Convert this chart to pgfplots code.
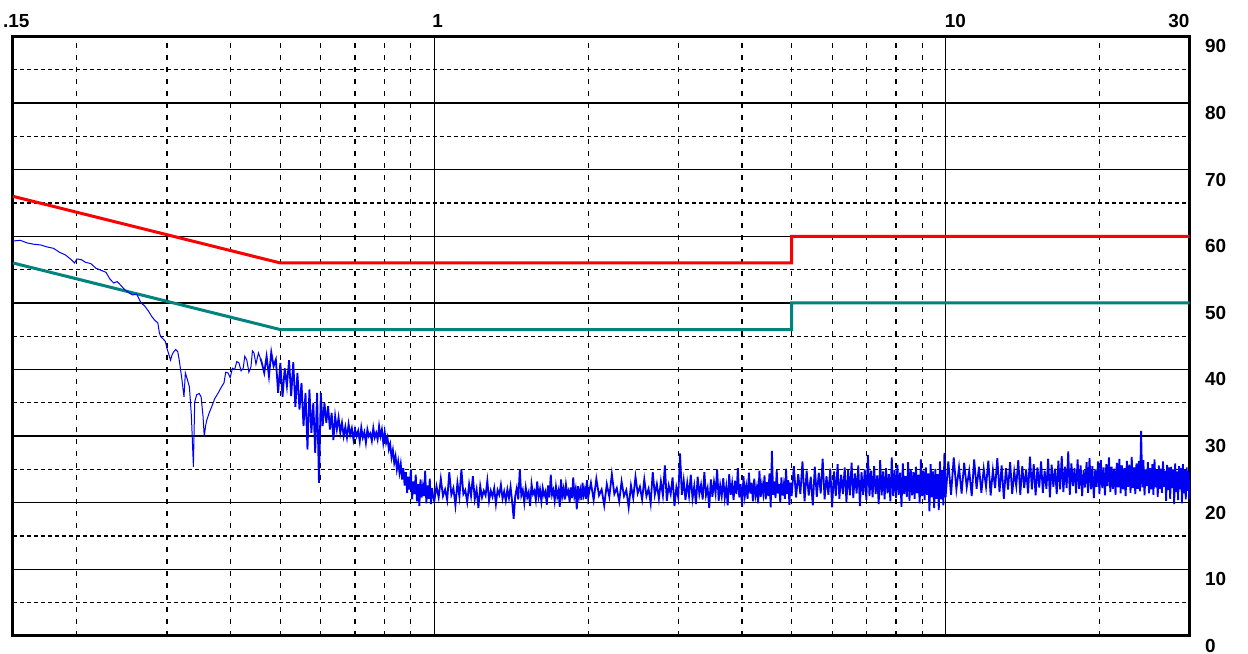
\documentclass[border=0pt]{standalone}
\usepackage{fontspec}
\setmainfont{Liberation Sans}
\usepackage{pgfplots}
\pgfplotsset{compat=1.18}
\definecolor{limred}{RGB}{250,0,0}
\definecolor{limteal}{RGB}{0,130,125}
\definecolor{trace}{RGB}{0,0,245}
\newcommand{\lbl}{\fontsize{19}{19}\selectfont\bfseries}
\begin{document}
\begin{tikzpicture}
\begin{axis}[
  scale only axis, width=1176.5bp, height=599.5bp,
  xmode=log, xmin=0.15, xmax=30, ymin=0, ymax=90,
  clip=false,
  axis line style={line width=3bp},
  xtick={1,10}, xticklabels={},
  minor xtick={0.2,0.3,0.4,0.5,0.6,0.7,0.8,0.9,2,3,4,5,6,7,8,9,20},
  ytick={0,10,20,30,40,50,60,70,80,90},
  yticklabels={0,10,20,30,40,50,60,70,80,90},
  minor ytick={5,15,25,35,45,55,65,75,85},
  major tick length=0pt, minor tick length=0pt,
  grid=both,
  major grid style={black, line width=1.4bp},
  minor x grid style={black, line width=1.2bp, dash pattern=on 5bp off 7bp},
  minor y grid style={black, line width=1.2bp, dash pattern=on 4bp off 3bp},
  yticklabel pos=right,
  yticklabel style={anchor=north west, inner sep=0pt, xshift=15.5bp, yshift=-3bp, font=\lbl},
]
% limit lines
\addplot[limred, line width=3bp] coordinates {(0.15,66)(0.5,56)(5,56)(5,60)(30,60)};
\addplot[limteal, line width=3bp] coordinates {(0.15,56)(0.5,46)(5,46)(5,50)(30,50)};
% measured trace, smooth low-frequency part
\addplot[trace, line width=1bp] coordinates {
(0.150,59.3)(0.155,59.4)(0.160,59.0)(0.165,58.8)(0.170,58.7)(0.175,58.4)(0.180,58.2)(0.185,57.6)(0.190,57.2)(0.195,56.5)(0.198,56.0)(0.200,56.6)(0.204,56.5)(0.208,56.1)(0.213,55.9)(0.218,55.2)(0.223,54.9)(0.228,54.6)(0.232,53.6)(0.236,53.0)(0.240,53.2)(0.244,52.6)(0.248,52.0)(0.252,51.6)(0.257,51.2)(0.262,51.3)(0.267,50.0)(0.271,49.6)(0.276,48.8)(0.280,48.0)(0.284,47.4)(0.288,47.0)(0.290,45.5)(0.292,44.9)(0.295,44.6)(0.298,44.2)(0.300,43.2)(0.302,42.5)(0.305,41.4)(0.307,42.2)(0.309,42.6)(0.312,43.0)(0.315,42.7)(0.317,41.5)(0.319,40.0)(0.321,38.5)(0.324,35.9)(0.326,39.5)(0.329,38.5)(0.332,37.4)(0.335,33.0)(0.338,25.4)(0.340,35.1)(0.343,36.2)(0.347,36.4)(0.350,35.9)(0.353,33.0)(0.355,29.9)(0.357,31.5)(0.359,32.4)(0.363,33.5)(0.367,34.4)(0.372,35.6)(0.378,36.5)(0.383,37.3)(0.388,38.0)(0.391,39.6)(0.395,39.5)(0.399,38.8)(0.403,40.2)(0.407,40.0)(0.411,41.2)(0.415,41.0)(0.419,39.8)(0.423,40.2)(0.426,42.0)(0.430,41.4)(0.434,39.6)(0.438,40.4)(0.441,42.8)(0.444,42.5)(0.448,40.8)(0.453,42.5)(0.457,41.7)
};
% measured trace, noisy part
\addplot[trace, line width=1.8bp] coordinates {
(0.457,41.7)(0.460,41.0)(0.465,39.5)(0.470,42.0)(0.475,39.0)(0.480,42.6)(0.485,40.5)(0.490,41.5)(0.495,36.5)(0.500,41.0)(0.505,35.9)(0.510,40.2)(0.515,37.5)(0.520,41.4)(0.525,36.0)(0.530,41.1)(0.535,34.4)(0.540,39.5)(0.545,34.0)(0.550,38.0)(0.555,31.5)(0.560,36.5)(0.565,28.0)(0.570,37.0)(0.575,30.5)(0.580,35.0)(0.585,27.5)(0.590,36.5)(0.595,23.0)(0.600,36.5)(0.605,31.5)(0.610,35.0)(0.615,32.0)(0.620,34.5)(0.625,31.0)(0.630,33.5)(0.635,29.4)(0.640,33.0)(0.645,31.0)(0.650,32.8)(0.655,30.5)(0.660,32.0)(0.665,30.0)(0.670,31.4)(0.675,29.8)(0.680,31.8)(0.685,30.2)(0.690,31.2)(0.695,29.5)(0.700,31.0)(0.705,30.0)(0.710,30.8)(0.715,29.2)(0.720,31.3)(0.725,29.8)(0.730,30.6)(0.735,29.0)(0.740,31.0)(0.745,30.0)(0.750,30.4)(0.755,29.3)(0.760,31.2)(0.765,29.8)(0.770,30.5)(0.775,29.5)(0.780,31.5)(0.785,30.0)(0.790,31.0)(0.795,29.0)(0.800,30.6)(0.805,29.0)(0.810,29.8)(0.815,28.0)(0.820,28.8)(0.825,26.8)(0.830,27.9)(0.835,26.0)(0.840,27.0)(0.845,25.0)(0.850,26.2)(0.855,24.5)(0.860,25.8)(0.865,23.5)(0.870,25.2)(0.875,22.6)(0.880,24.6)(0.885,21.5)(0.890,23.9)(0.895,22.0)(0.900,25.0)(0.905,20.5)(0.910,23.2)(0.915,21.3)(0.920,24.2)(0.925,20.2)(0.930,22.8)(0.935,19.5)(0.940,23.5)(0.945,20.8)(0.950,22.4)(0.955,21.0)(0.960,24.8)(0.965,19.9)(0.970,22.6)(0.975,20.6)(0.980,23.6)(0.985,19.8)(0.990,22.2)(0.995,20.9)
(1.00,20.2)(1.01,22.5)(1.02,20.8)(1.03,23.6)(1.04,21.0)(1.05,22.0)(1.06,20.4)(1.07,24.6)(1.08,21.2)(1.09,22.2)(1.10,19.6)(1.11,23.0)(1.12,20.9)(1.13,25.0)(1.14,21.3)(1.15,21.9)(1.16,20.1)(1.17,22.8)(1.18,21.0)(1.19,24.0)(1.20,20.5)(1.21,22.0)(1.22,19.2)(1.23,22.5)(1.24,20.8)(1.25,21.8)(1.26,21.1)(1.27,23.3)(1.28,20.3)(1.29,21.8)(1.30,20.9)(1.31,22.2)(1.32,19.8)(1.33,21.9)(1.34,21.2)(1.35,22.7)(1.36,20.6)(1.37,21.7)(1.38,20.3)(1.39,22.0)(1.40,20.7)(1.41,22.4)(1.42,20.2)(1.43,17.6)(1.44,21.0)(1.45,22.2)(1.46,20.5)(1.47,25.0)(1.48,21.1)(1.49,21.9)(1.50,20.0)(1.51,22.3)(1.52,20.8)(1.53,21.6)(1.54,19.5)(1.55,22.8)(1.56,21.3)(1.57,21.8)(1.58,20.4)(1.59,23.2)(1.60,20.9)(1.61,22.0)(1.62,20.2)(1.63,22.2)(1.64,21.1)(1.65,21.7)(1.66,19.7)(1.67,22.6)(1.68,20.8)(1.69,24.2)(1.70,21.2)(1.71,21.9)(1.72,20.3)(1.73,22.4)(1.74,20.9)(1.75,21.8)(1.76,19.4)(1.77,23.5)(1.78,21.0)(1.79,22.1)(1.80,20.5)(1.81,22.7)(1.82,21.3)(1.83,21.8)(1.84,20.1)(1.85,22.3)(1.86,20.7)(1.87,23.8)(1.88,21.0)(1.89,22.0)(1.90,19.0)(1.91,22.5)(1.92,20.9)(1.93,21.9)(1.94,20.4)(1.95,23.0)(1.96,21.2)(1.97,22.0)(1.98,20.6)(1.99,23.4)(2.00,20.8)
(2.025,23.0)(2.05,20.4)(2.075,23.6)(2.1,21.1)(2.125,22.0)(2.15,19.6)(2.175,22.8)(2.2,20.9)(2.225,24.3)(2.25,21.3)(2.275,22.2)(2.3,20.2)(2.325,23.2)(2.35,21.0)(2.375,21.9)(2.4,19.3)(2.425,22.6)(2.45,20.7)(2.475,23.9)(2.5,21.4)(2.525,22.4)(2.55,20.5)(2.575,23.5)(2.6,21.0)(2.625,22.1)(2.65,19.9)(2.675,24.6)(2.7,21.2)(2.725,22.8)(2.75,20.6)(2.775,23.2)(2.8,21.1)(2.825,25.6)(2.85,20.3)(2.875,22.6)(2.9,21.3)(2.925,23.8)(2.95,19.5)(2.975,22.3)(3.0,20.8)(3.025,27.4)(3.05,21.2)(3.075,23.4)(3.1,20.4)(3.125,23.0)(3.15,21.0)(3.175,24.2)(3.2,20.6)(3.225,22.5)(3.25,19.8)(3.275,23.9)(3.3,21.3)(3.325,22.7)(3.35,20.5)(3.375,24.6)(3.4,21.1)(3.425,22.2)(3.45,19.2)(3.475,23.5)(3.5,20.9)(3.525,23.1)(3.55,21.4)(3.575,25.0)(3.6,20.3)(3.625,22.6)(3.65,21.0)(3.675,23.7)(3.7,20.7)(3.725,22.4)(3.75,19.6)(3.775,24.3)(3.8,21.2)(3.825,22.9)(3.85,20.4)(3.875,23.3)(3.9,21.3)(3.925,25.2)(3.95,20.8)(3.975,22.8)(4.0,19.4)(4.025,24.0)(4.05,21.0)(4.075,22.5)(4.1,20.6)(4.125,24.5)(4.15,21.4)(4.175,23.0)(4.2,20.2)(4.225,23.6)(4.25,21.1)(4.275,22.3)(4.3,19.9)(4.325,24.8)(4.35,20.9)(4.375,22.7)(4.4,21.3)(4.425,24.1)(4.45,20.5)(4.475,23.1)(4.5,21.0)(4.525,24.4)(4.55,19.3)(4.575,27.8)(4.6,21.2)(4.625,23.2)(4.65,20.7)(4.675,24.9)(4.7,21.4)(4.725,22.8)(4.75,20.1)(4.775,23.8)(4.8,21.1)(4.825,22.6)(4.85,20.6)(4.875,25.1)(4.9,21.3)(4.925,23.4)(4.95,19.7)(4.975,23.0)(5.0,21.0)
(5.05,25.5)(5.1,20.8)(5.15,24.3)(5.2,21.3)(5.25,26.2)(5.3,20.2)(5.35,24.8)(5.4,21.1)(5.45,23.9)(5.5,19.6)(5.55,25.4)(5.6,20.9)(5.65,24.5)(5.7,21.4)(5.75,26.6)(5.8,20.5)(5.85,24.0)(5.9,21.2)(5.95,25.1)(6.0,19.3)(6.05,24.7)(6.1,21.0)(6.15,25.8)(6.2,20.6)(6.25,24.2)(6.3,21.3)(6.35,25.3)(6.4,20.1)(6.45,24.9)(6.5,21.1)(6.55,26.0)(6.6,20.7)(6.65,24.4)(6.7,21.4)(6.75,25.6)(6.8,19.5)(6.85,24.6)(6.9,21.2)(6.95,25.0)(7.0,20.4)(7.05,27.2)(7.1,21.0)(7.15,24.8)(7.2,20.8)(7.25,25.5)(7.3,21.3)(7.35,24.1)(7.4,19.8)(7.45,26.4)(7.5,21.1)(7.55,24.7)(7.6,20.5)(7.65,25.2)(7.7,21.4)(7.75,24.3)(7.8,20.2)(7.85,26.8)(7.9,21.0)(7.95,24.9)(8.0,20.7)(8.05,25.7)(8.1,21.2)(8.15,24.5)(8.2,19.4)(8.25,25.9)(8.3,21.3)(8.35,24.0)(8.4,20.9)(8.45,26.1)(8.5,20.3)(8.55,25.0)(8.6,21.1)(8.65,24.6)(8.7,20.6)(8.75,25.4)(8.8,21.4)(8.85,24.2)(8.9,19.9)(8.95,26.5)(9.0,21.0)(9.05,24.8)(9.1,20.4)(9.15,25.3)(9.2,21.2)(9.25,24.4)(9.3,18.7)(9.35,25.8)(9.4,20.8)(9.45,24.7)(9.5,19.2)(9.55,25.1)(9.6,20.6)(9.65,24.3)(9.7,18.9)(9.75,26.2)(9.8,20.5)(9.85,24.9)(9.9,19.6)(9.95,27.5)(10.0,20.8)
(10.125,26.2)(10.25,21.2)(10.375,26.8)(10.5,22.0)(10.625,25.3)(10.75,21.4)(10.875,26.0)(11.0,22.3)(11.125,24.8)(11.25,21.0)(11.375,26.5)(11.5,22.1)(11.625,25.4)(11.75,21.5)(11.875,25.1)(12.0,22.4)(12.125,26.3)(12.25,21.1)(12.375,24.9)(12.5,22.2)(12.625,26.7)(12.75,21.6)(12.875,25.6)(13.0,20.6)(13.125,25.2)(13.25,22.0)(13.375,26.1)(13.5,21.3)(13.625,24.7)(13.75,22.5)(13.875,26.4)(14.0,21.2)(14.125,25.5)(14.25,22.2)(14.375,25.0)(14.5,21.4)(14.625,26.9)(14.75,22.0)(14.875,25.8)(15.0,21.1)(15.125,25.3)(15.25,22.3)(15.375,26.2)(15.5,21.5)(15.625,24.8)(15.75,22.1)(15.875,26.6)(16.0,20.8)(16.125,25.7)(16.25,22.4)(16.375,25.1)(16.5,21.3)(16.625,26.3)(16.75,22.0)(16.875,27.0)(17.0,21.6)(17.125,25.4)(17.25,22.2)(17.375,27.7)(17.5,21.2)(17.625,25.9)(17.75,22.5)(17.875,25.2)(18.0,21.4)(18.125,26.5)(18.25,22.1)(18.375,25.6)(18.5,21.0)(18.625,24.9)(18.75,22.3)(18.875,26.1)(19.0,21.5)(19.125,26.7)(19.25,22.0)(19.375,25.5)(19.5,20.7)(19.625,25.0)(19.75,22.4)(19.875,26.2)(20.0,21.3)(20.125,26.4)(20.25,22.2)(20.375,25.3)(20.5,21.1)(20.625,25.8)(20.75,22.5)(20.875,26.8)(21.0,21.6)(21.125,25.4)(21.25,22.1)(21.375,25.1)(21.5,21.2)(21.625,26.0)(21.75,22.3)(21.875,26.6)(22.0,21.4)(22.125,25.6)(22.25,22.0)(22.375,25.2)(22.5,21.0)(22.625,26.3)(22.75,22.4)(22.875,25.7)(23.0,21.5)(23.125,26.9)(23.25,22.2)(23.375,25.3)(23.5,21.3)(23.625,25.9)(23.75,22.1)(23.875,26.3)(24.0,21.7)(24.125,30.8)(24.25,22.3)(24.375,26.4)(24.5,21.1)(24.625,25.0)(24.75,22.5)(24.875,26.1)(25.0,21.4)(25.125,25.2)(25.25,22.0)(25.375,25.8)(25.5,21.2)(25.625,26.5)(25.75,22.3)(25.875,24.9)(26.0,20.9)(26.125,25.6)(26.25,22.1)(26.375,25.1)(26.5,21.5)(26.625,26.2)(26.75,22.4)(26.875,24.8)(27.0,20.3)(27.125,25.7)(27.25,21.9)(27.375,25.3)(27.5,20.6)(27.625,25.4)(27.75,22.2)(27.875,25.0)(28.0,19.8)(28.125,25.9)(28.25,21.6)(28.375,24.7)(28.5,20.4)(28.625,25.5)(28.75,22.0)(28.875,25.2)(29.0,19.9)(29.125,25.8)(29.25,21.4)(29.375,24.9)(29.5,20.5)(29.625,25.3)(29.75,21.8)(29.875,24.6)(30.0,20.6)
};
% top frequency labels
\node[anchor=base west, inner sep=0pt, font=\lbl] at ([xshift=-10bp, yshift=8.5bp]axis cs:0.15,90) {.15};
\node[anchor=base west, inner sep=0pt, font=\lbl] at ([xshift=-2bp, yshift=8.5bp]axis cs:1,90) {1};
\node[anchor=base west, inner sep=0pt, font=\lbl] at ([xshift=-1bp, yshift=8.5bp]axis cs:10,90) {10};
\node[anchor=base east, inner sep=0pt, font=\lbl] at ([xshift=0bp, yshift=8.5bp]axis cs:30,90) {30};
\end{axis}
\path ([xshift=-13bp,yshift=-18bp]current axis.south west) rectangle ([xshift=58.5bp,yshift=36.5bp]current axis.north east);
\end{tikzpicture}
\end{document}
